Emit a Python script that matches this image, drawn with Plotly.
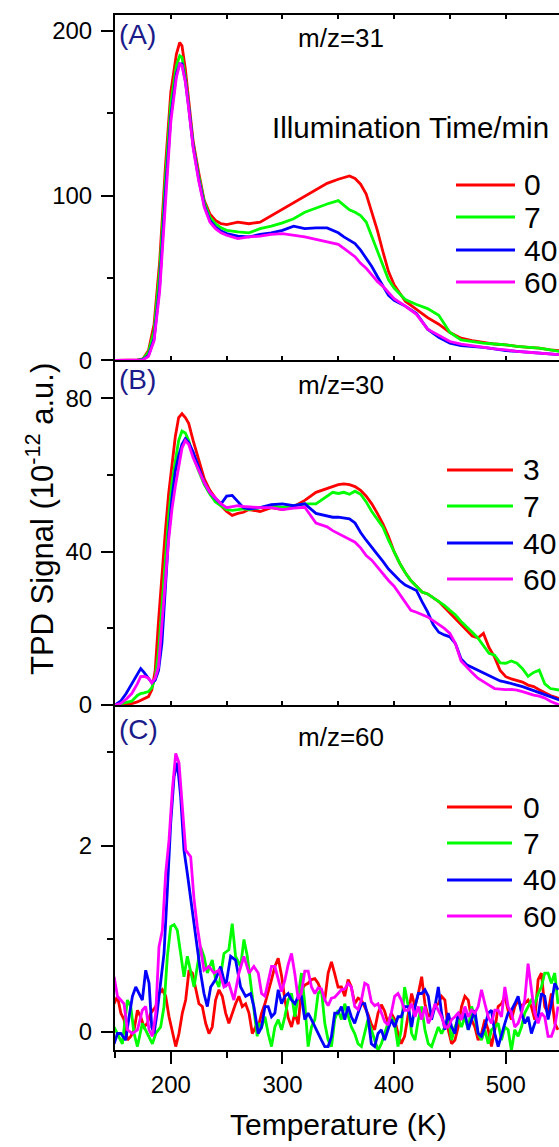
import plotly.graph_objects as go

# ---------------- labels / series ----------------
names_a = ["0", "7", "40", "60"]
names_b = ["3", "7", "40", "60"]
names_c = ["0", "7", "40", "60"]
colors = ["#ff0000", "#00ff00", "#0000ff", "#ff00ff"]
panel_tags = ["(A)", "(B)", "(C)"]
panel_titles = ["m/z=31", "m/z=30", "m/z=60"]
legend_title = "Illumination Time/min"
x_title = "Temperature (K)"
y_title = "TPD Signal (10<sup>-12</sup> a.u.)"

# ---------------- panel A : m/z=31 ----------------
temp_a = [150, 160, 170, 175, 180, 185, 190, 195, 200, 205, 208, 210, 213, 216, 220,
          225, 230, 235, 240, 245, 250, 260, 270, 280, 290, 300, 310, 320, 330, 340,
          350, 355, 360, 365, 370, 375, 380, 385, 390, 395, 400, 410, 420, 430, 440,
          450, 460, 470, 480, 490, 500, 510, 520, 530, 540, 548]
a_0 = [0, 0, 0.3, 1, 6, 22, 60, 116, 163, 186, 193, 191, 177, 158, 133,
       114, 97, 89, 85, 83, 82.5, 84, 83, 84, 88, 92, 95.5, 100, 104, 107.5,
       110, 111, 112, 110.5, 107, 101, 90, 79, 66, 54, 46, 36, 31, 26, 22,
       17, 13.5, 12, 11, 10, 9.5, 8.5, 8, 7.5, 6.5, 6]
a_7 = [0, 0, 0.2, 0.8, 5, 18, 54, 109, 156, 179, 185, 184, 172, 155, 131,
       112, 96, 87, 83, 80.5, 79, 78, 77.5, 80, 81.5, 83.5, 86, 90, 92.5, 95,
       97, 94, 91.5, 90, 88, 84, 75, 67, 57, 49, 44, 37, 34, 31.5, 27.5,
       17, 12.5, 11.5, 10.5, 10, 9.5, 8.5, 8, 7.5, 6.5, 5.5]
a_40 = [0, 0, 0, 0.5, 3, 13, 45, 100, 148, 174, 180, 180, 170, 154, 130,
        110, 94, 85, 81, 78.5, 77, 75.5, 75, 76.5, 77.5, 79, 81.5, 80, 80.5, 80.5,
        77.5, 75, 73, 71, 67, 62, 57, 51, 45, 39.5, 36.5, 33, 28.5, 19, 14,
        10.5, 9, 8.5, 8, 7, 6, 5.5, 5, 4.5, 4, 3.5]
a_60 = [0, 0, 0, 0.3, 2.5, 12, 42, 97, 145, 172, 180, 179, 169, 153, 129,
        109, 93, 84, 80, 77.5, 76, 74, 75, 75.5, 76.5, 77, 76, 75, 73.5, 72,
        70.5, 68, 65.5, 63, 59, 56, 52, 48, 45, 41, 37.5, 33, 28, 19, 15,
        11.5, 10, 9, 8, 7, 6.5, 5.5, 5, 4.5, 4, 3.5]

# ---------------- panel B : m/z=30 ----------------
temp_b = [150, 155, 160, 165, 170, 173, 176, 180, 183, 186, 189, 192, 195, 198, 201,
          204, 207, 210, 213, 216, 220, 225, 230, 235, 240, 245, 250, 255, 260, 265,
          270, 280, 290, 300, 310, 320, 330, 340, 345, 350, 355, 360, 365, 370, 375,
          380, 385, 390, 395, 400, 405, 410, 415, 420, 425, 430, 435, 440, 445, 450,
          455, 460, 465, 470, 475, 480, 485, 490, 495, 500, 505, 510, 515, 520, 525,
          530, 535, 540, 548]
b_3 = [0, 0, 0.2, 0.4, 0.8, 1.2, 1.5, 2.2, 4, 9, 22, 34, 45, 55, 63,
       70, 75, 76, 75, 73.5, 69, 64, 59, 56, 54, 52, 50.5, 49.5, 50, 50.3,
       51, 50.5, 51.5, 51, 51.8, 53.4, 55.5, 56.5, 57, 57.5, 57.7, 57.5, 57, 56, 54.5,
       52.5, 50, 47.3, 44, 40, 37, 34.5, 32.5, 31, 29.5, 29, 28, 27, 25.5, 24,
       22.5, 21, 19.5, 18, 17.5, 18.7, 15, 12.5, 9, 7.4, 6.8, 6.3, 6, 5.2, 4.8,
       4, 3.2, 2.5, 1.7]
b_7 = [0, 0.3, 0.7, 1, 2.5, 3, 3.2, 3.5, 4.5, 7, 14, 26, 38, 49, 58,
       64, 69, 71.5, 71, 69, 65, 61, 57.5, 55, 53, 52, 51, 50.8, 51, 51.2,
       51, 51.5, 52, 51.6, 52, 52.5, 52.5, 54.5, 55.5, 55.2, 55.5, 55, 55.8, 55, 53,
       50.5, 48.5, 46.4, 43, 40, 37, 34.5, 32.5, 31, 29.5, 29, 28, 27, 26, 24.7,
       23.5, 21.8, 20.5, 19, 17.5, 15.5, 13.5, 13, 11, 10.9, 11.5, 10.9, 9.5, 7.5, 8.5,
       9.1, 5.5, 4.3, 3.9]
b_40 = [0, 1, 3, 5.5, 8, 9.5, 8.5, 7, 5.8, 6.5, 9, 16, 30, 44, 54,
        61, 65, 68, 69.5, 68.5, 66, 62, 58, 55.5, 53.8, 52.5, 54.5, 54.7, 53, 51.5,
        51.2, 51.5, 52.3, 52.5, 52, 52.5, 50, 49.2, 49, 49, 48.8, 48.6, 47.5, 45, 43,
        41, 39.3, 37.5, 35.5, 34, 32.5, 31.3, 30.5, 29.9, 27, 24.3, 21, 19, 18.3, 17.8,
        16, 12, 10.5, 9.8, 9, 8.3, 7.5, 6.8, 6.3, 6, 5.5, 5.2, 4.8, 4.3, 3.8,
        3.4, 2.8, 2.2, 1.3]
b_60 = [0, 0.4, 1.5, 3, 5.5, 7.4, 7.5, 7, 5.8, 7, 10, 20, 32, 43, 51,
        57, 62, 67, 69, 68, 64.5, 61, 58, 55.5, 54, 52.5, 51.5, 51.8, 52, 51.8,
        51.7, 51.5, 51.5, 51, 51.4, 51.6, 47.5, 46.5, 45.5, 44.7, 44, 43.2, 42.5, 41, 39,
        37.8, 36, 34.3, 32.5, 31, 29, 27, 24.7, 24.2, 23.5, 23, 22, 21, 20, 18.7,
        16, 11.5, 9.8, 8.4, 7, 6, 5.2, 4.3, 4.2, 4, 4.1, 3.9, 3.5, 3, 2.6,
        2.3, 1.8, 1, 0]

# ---------------- panel C : m/z=60 ----------------
temp_c_mid = [278.3, 281.3, 284.3, 287.2, 290.2, 293.2, 296.2, 299.2, 302.1, 305.1,
              308.1, 311.1, 314.1, 317.0, 320.0, 323.0, 326.0, 329.0, 331.9, 334.9,
              337.9, 340.9, 343.9, 346.8, 349.8, 352.8, 355.8, 358.8, 361.7, 364.7,
              367.7, 370.7, 373.7, 376.6, 379.6, 382.6, 385.6, 388.6, 391.5, 394.5,
              397.5, 400.5, 403.5, 406.4, 409.4]
temp_c_end = [412.7, 415.7, 418.7, 421.7, 424.7, 427.6, 430.6, 433.6, 436.6, 439.6,
              442.5, 445.5, 448.5, 451.5, 454.5, 457.4, 460.4, 463.4, 466.4, 469.4,
              472.3, 475.3, 478.3, 481.3, 484.3, 487.2, 490.2, 493.2, 496.2, 499.2,
              502.1, 505.1, 508.1, 511.1, 514.1, 517.0, 520.0, 523.0, 526.0, 529.0,
              531.9, 534.9, 537.9, 540.9, 543.9, 546.8]

c0_temp_head = [149.2, 152.2, 155.2, 158.1, 161.1, 164.1, 167.1, 170.1, 173.0, 176.0,
                179.0, 182.0, 186.5, 189.4, 192.4, 195.4, 198.4, 201.4, 204.4, 207.3,
                210.3, 213.3, 216.3, 219.3, 222.2, 225.2, 228.2, 231.2, 234.2, 237.1,
                240.1, 243.1, 246.1, 249.1, 252.0, 255.0, 258.0, 261.0, 264.0, 267.0,
                270.0, 273.0, 275.9]
c0_head = [0.30, 0.38, 0.20, 0.13, -0.09, -0.05, 0.02, 0.23, 0.16, 0.05,
           0.09, 0.20, 0.27, 0.41, 0.45, 0.38, 0.16, -0.02, -0.16, -0.02,
           0.20, 0.34, 0.66, 0.63, 0.48, 0.30, 0.27, 0.09, -0.02, 0.05,
           0.34, 0.45, 0.38, 0.20, 0.09, 0.20, 0.30, 0.38, 0.27, 0.30,
           0.20, -0.02, 0.05]
c0_mid = [0.05, 0.20, 0.30, 0.42, 0.56, 0.70, 0.79, 0.60, 0.35, 0.15,
          0.05, 0.20, 0.08, 0.45, 0.50, 0.52, 0.56, 0.57, 0.52, 0.43,
          0.34, 0.63, 0.75, 0.62, 0.48, 0.48, 0.38, 0.56, 0.48, 0.30,
          0.36, 0.34, 0.27, 0.19, 0.08, 0.02, 0.20, 0.29, 0.22, 0.09,
          0.20, 0.13, -0.02, -0.13, -0.05]
c0_end = [0.20, 0.41, 0.27, 0.41, 0.59, 0.30, 0.16, 0.20, 0.27, 0.30,
          0.38, 0.34, 0.02, -0.13, -0.09, 0.05, 0.27, 0.38, 0.34, 0.13,
          0.05, -0.09, -0.02, 0.13, 0.02, -0.16, 0.02, 0.27, 0.30, 0.38,
          0.23, 0.13, 0.27, 0.34, 0.27, 0.30, 0.34, 0.27, 0.13, 0.56,
          0.63, 0.27, 0.20, 0.41, 0.09, 0.02]

c7_temp_head = [149.2, 152.2, 156.6, 161.1, 164.1, 167.1, 170.1, 174.5, 179.0, 183.5,
                186.5, 190.9, 193.9, 196.9, 199.9, 202.9, 205.8, 208.8, 211.8, 214.8,
                217.8, 220.8, 223.7, 226.7, 229.7, 232.7, 237.1, 240.1, 243.1, 247.6,
                252.0, 255.0, 258.0, 262.5, 265.5, 268.5, 273.0, 277.4]
c7_head = [0.05, -0.02, -0.13, 0.34, 0.27, -0.02, -0.16, 0.09, -0.02, -0.13,
           -0.02, 0.05, 0.27, 0.81, 1.13, 1.15, 1.09, 0.84, 0.59, 0.81,
           0.66, 0.48, 0.70, 0.91, 0.81, 0.63, 0.77, 0.56, 0.48, 0.84,
           0.88, 1.16, 0.81, 0.70, 0.99, 0.81, 0.38, -0.05]
c7_mid = [0.09, 0.05, 0.16, -0.02, -0.16, 0.05, 0.13, 0.02, 0.16, 0.34,
          0.41, 0.16, 0.38, 0.63, 0.30, -0.16, 0.05, 0.13, 0.41, 0.45,
          0.09, -0.09, -0.16, 0.13, 0.23, 0.13, 0.30, 0.16, 0.05, -0.02,
          -0.13, -0.16, -0.02, 0.13, 0.02, -0.09, -0.20, -0.13, -0.02, 0.09,
          0.16, 0.09, -0.16, 0.02, 0.48]
c7_end = [0.27, -0.02, -0.09, 0.13, 0.27, 0.02, -0.13, -0.16, -0.05, 0.05,
          -0.02, 0.05, 0.16, -0.09, 0.05, 0.13, 0.05, 0.16, 0.02, 0.27,
          0.16, -0.02, -0.09, 0.02, -0.13, 0.02, 0.05, 0.09, -0.09, 0.05,
          0.02, -0.20, 0.02, -0.05, 0.05, 0.20, 0.27, 0.34, 0.30, 0.41,
          0.48, 0.63, 0.63, 0.52, 0.63, 0.30]

c40_temp_head = [149.2, 152.2, 155.2, 159.6, 162.6, 165.6, 168.6, 171.5, 174.5, 177.5,
                 180.5, 182.9, 185.0, 188.0, 190.9, 193.9, 196.9, 199.9, 202.9, 205.8,
                 208.8, 211.8, 214.8, 217.8, 220.8, 223.7, 226.7, 229.7, 232.7, 235.7,
                 240.1, 244.6, 249.1, 253.6, 258.0, 262.5, 267.0, 271.5, 274.4]
c40_head = [-0.13, -0.02, -0.02, -0.09, 0.16, 0.38, 0.48, 0.41, 0.34, 0.66,
            0.52, 0.05, -0.02, 0.23, 0.56, 0.84, 1.52, 2.24, 2.74, 2.89,
            2.53, 1.95, 1.70, 1.42, 1.13, 0.91, 0.63, 0.41, 0.27, 0.48,
            0.56, 0.70, 0.48, 0.81, 0.77, 0.48, 0.38, 0.41, 0.27]
c40_mid = [-0.02, 0.05, 0.27, 0.27, 0.16, 0.20, 0.45, 0.30, 0.38, 0.41,
           0.34, 0.30, 0.38, 0.38, 0.13, 0.20, 0.13, 0.05, -0.02, -0.09,
           -0.16, -0.16, -0.05, 0.20, 0.20, 0.27, 0.13, 0.27, 0.16, 0.09,
           0.20, 0.30, 0.30, 0.16, -0.13, -0.16, -0.02, 0.02, -0.09, 0.02,
           0.13, 0.05, 0.16, 0.16, 0.27]
c40_end = [0.27, 0.05, 0.27, 0.41, 0.41, 0.45, 0.38, 0.13, 0.27, 0.48,
           0.20, 0.02, 0.20, 0.05, -0.02, 0.20, 0.13, 0.20, 0.02, 0.13,
           0.23, -0.02, -0.05, 0.05, 0.20, 0.23, -0.02, -0.16, -0.02, 0.09,
           0.20, 0.23, 0.30, 0.38, 0.20, 0.09, 0.16, -0.02, 0.09, 0.16,
           0.41, 0.38, 0.13, 0.30, 0.52, 0.45]

c60_temp_head = [149.2, 152.2, 155.2, 158.1, 161.1, 165.6, 170.1, 174.5, 177.5, 180.5,
                 183.5, 186.5, 189.4, 192.4, 195.4, 198.4, 201.4, 204.4, 207.3, 210.3,
                 213.3, 217.8, 220.8, 223.7, 226.7, 229.7, 234.2, 238.6, 243.1, 247.6,
                 252.0, 256.5, 261.0, 265.5, 270.0, 274.4]
c60_head = [0.59, 0.38, 0.34, 0.30, 0.02, -0.02, 0.02, 0.23, 0.27, 0.02,
            -0.05, 0.20, 0.91, 1.09, 1.70, 2.06, 2.60, 2.99, 2.89, 2.42,
            1.95, 1.88, 1.42, 1.13, 0.91, 0.66, 0.70, 0.63, 0.66, 0.48,
            0.52, 0.34, 0.63, 0.81, 0.63, 0.70]
c60_mid = [0.63, 0.41, 0.38, 0.55, 0.70, 0.70, 0.55, 0.43, 0.55, 0.72,
           0.84, 0.62, 0.35, 0.42, 0.65, 0.65, 0.48, 0.41, 0.47, 0.46,
           0.34, 0.28, 0.36, 0.37, 0.41, 0.45, 0.46, 0.52, 0.48, 0.27,
           0.24, 0.34, 0.52, 0.50, 0.32, 0.28, 0.30, 0.20, 0.11, 0.07,
           0.20, 0.38, 0.41, 0.34, 0.23]
c60_end = [0.23, 0.30, 0.16, 0.27, 0.13, 0.27, 0.09, 0.16, 0.30, 0.23,
           0.16, 0.05, 0.05, 0.13, 0.16, 0.20, 0.13, 0.27, 0.16, 0.23,
           0.20, 0.27, 0.45, 0.30, 0.16, 0.09, 0.23, 0.23, 0.16, 0.48,
           0.27, 0.20, 0.05, 0.09, 0.20, 0.34, 0.73, 0.45, 0.20, 0.09,
           0.20, 0.16, -0.05, -0.05, 0.05, 0.27]

# ---------------- geometry (page pixels of the reference) ----------------
FONT = "Liberation Sans, Arial, sans-serif"
NAVY = "#1b1b8a"
W, H = 559, 1147
PLOT_L, PLOT_R, PLOT_T, PLOT_B = 115, 559, 15, 1050   # plot area in page pixels
ML, MT, MR, MB = PLOT_L, PLOT_T, W - PLOT_R, H - PLOT_B
PW, PH = PLOT_R - PLOT_L, PLOT_B - PLOT_T


def px_x(px):
    return (px - PLOT_L) / PW


def px_y(py):
    return (PLOT_B - py) / PH


fig = go.Figure()

panel_a = [a_0, a_7, a_40, a_60]
panel_b = [b_3, b_7, b_40, b_60]
panel_c_x = [c0_temp_head + temp_c_mid + temp_c_end,
             c7_temp_head + temp_c_mid + temp_c_end,
             c40_temp_head + temp_c_mid + temp_c_end,
             c60_temp_head + temp_c_mid + temp_c_end]
panel_c_y = [c0_head + c0_mid + c0_end,
             c7_head + c7_mid + c7_end,
             c40_head + c40_mid + c40_end,
             c60_head + c60_mid + c60_end]

LW = 2.8
for vals, name, col in zip(panel_a, names_a, colors):
    assert len(vals) == len(temp_a)
    fig.add_trace(go.Scatter(x=temp_a, y=vals, name=name, mode="lines",
                             line=dict(color=col, width=LW), xaxis="x", yaxis="y",
                             showlegend=False, hoverinfo="skip"))
for vals, name, col in zip(panel_b, names_b, colors):
    assert len(vals) == len(temp_b)
    fig.add_trace(go.Scatter(x=temp_b, y=vals, name=name, mode="lines",
                             line=dict(color=col, width=LW), xaxis="x2", yaxis="y2",
                             showlegend=False, hoverinfo="skip"))
for xs, vals, name, col in zip(panel_c_x, panel_c_y, names_c, colors):
    assert len(vals) == len(xs)
    fig.add_trace(go.Scatter(x=xs, y=vals, name=name, mode="lines",
                             line=dict(color=col, width=LW), xaxis="x3", yaxis="y3",
                             showlegend=False, hoverinfo="skip"))

xcommon = dict(range=[150, 547.7], showgrid=False, zeroline=False, showline=True,
               linecolor="black", linewidth=2, tickcolor="black")
ycommon = dict(showgrid=False, zeroline=False, showline=True, linecolor="black",
               linewidth=2, ticks="outside", ticklen=12, tickwidth=2, tickcolor="black",
               tickfont=dict(family=FONT, size=24, color="black"), ticklabelstandoff=4)

fig.update_layout(
    width=W, height=H,
    margin=dict(l=ML, r=MR, t=MT, b=MB),
    plot_bgcolor="white", paper_bgcolor="white",
    font=dict(family=FONT, size=24, color="black"),
    showlegend=False,
    xaxis=dict(**xcommon, anchor="y", mirror="ticks", ticks="inside", ticklen=4,
               tickwidth=1.5, tick0=0, dtick=50, showticklabels=False),
    xaxis2=dict(**xcommon, anchor="y2", ticks="inside", ticklen=4, tickwidth=1.5,
                tick0=0, dtick=50, showticklabels=False),
    xaxis3=dict(**xcommon, anchor="y3", ticks="outside", ticklen=12, tickwidth=2,
                tick0=0, dtick=100,
                minor=dict(tick0=0, dtick=50, ticks="outside", ticklen=6, tickwidth=2,
                           tickcolor="black"),
                tickfont=dict(family=FONT, size=24, color="black")),
    yaxis=dict(**ycommon, domain=[0.6662, 1.0], range=[0, 209.7], tick0=0, dtick=100,
               minor=dict(tick0=0, dtick=50, ticks="outside", ticklen=6, tickwidth=2,
                          tickcolor="black")),
    yaxis2=dict(**ycommon, domain=[0.3333, 0.6662], range=[0, 89.9], tick0=0, dtick=40,
                minor=dict(tick0=0, dtick=20, ticks="outside", ticklen=6, tickwidth=2,
                           tickcolor="black")),
    yaxis3=dict(**ycommon, domain=[0.0, 0.3333], range=[-0.197, 3.51], tick0=0, dtick=2,
                minor=dict(tick0=0, dtick=1, ticks="outside", ticklen=6, tickwidth=2,
                           tickcolor="black")),
)

annotations = []
shapes = []

tag_y = [35, 379, 729]
title_y = [38, 385, 737]
for tag, title, ty, my in zip(panel_tags, panel_titles, tag_y, title_y):
    annotations.append(dict(text=tag, xref="paper", yref="paper", x=px_x(117), y=px_y(ty),
                            xanchor="left", yanchor="middle", showarrow=False,
                            font=dict(family=FONT, size=28, color=NAVY)))
    annotations.append(dict(text=title, xref="paper", yref="paper", x=px_x(341), y=px_y(my),
                            xanchor="center", yanchor="middle", showarrow=False,
                            font=dict(family=FONT, size=26, color="black")))

annotations.append(dict(text=legend_title, xref="paper", yref="paper", x=px_x(551),
                        y=px_y(128), xanchor="right", yanchor="middle", showarrow=False,
                        font=dict(family=FONT, size=29.5, color="black")))

legend_specs = [
    (names_a, 456, 515, 522, [185, 217, 250, 282]),
    (names_b, 447, 513, 521, [470, 506, 543, 579]),
    (names_c, 447, 512, 521, [807, 843, 880, 916]),
]
for names, lx0, lx1, tx, rows in legend_specs:
    for name, col, ry in zip(names, colors, rows):
        shapes.append(dict(type="line", xref="paper", yref="paper",
                           x0=px_x(lx0), x1=px_x(lx1), y0=px_y(ry), y1=px_y(ry),
                           line=dict(color=col, width=3)))
        annotations.append(dict(text=name, xref="paper", yref="paper", x=px_x(tx),
                                y=px_y(ry), xanchor="left", yanchor="middle",
                                showarrow=False,
                                font=dict(family=FONT, size=30, color="black")))

annotations.append(dict(text=y_title, xref="paper", yref="paper", x=px_x(40), y=px_y(519),
                        xanchor="center", yanchor="middle", textangle=-90, showarrow=False,
                        font=dict(family=FONT, size=31, color="black")))
annotations.append(dict(text=x_title, xref="paper", yref="paper", x=px_x(338),
                        y=px_y(1124), xanchor="center", yanchor="middle", showarrow=False,
                        font=dict(family=FONT, size=30, color="black")))

fig.update_layout(annotations=annotations, shapes=shapes)

# the page is exactly the figure: no default body margin, no scrollbars, no modebar
fig.write_html("out.html",
               config={"displayModeBar": False},
               post_script="document.body.style.margin='0px';"
                           "document.body.style.overflow='hidden';")
